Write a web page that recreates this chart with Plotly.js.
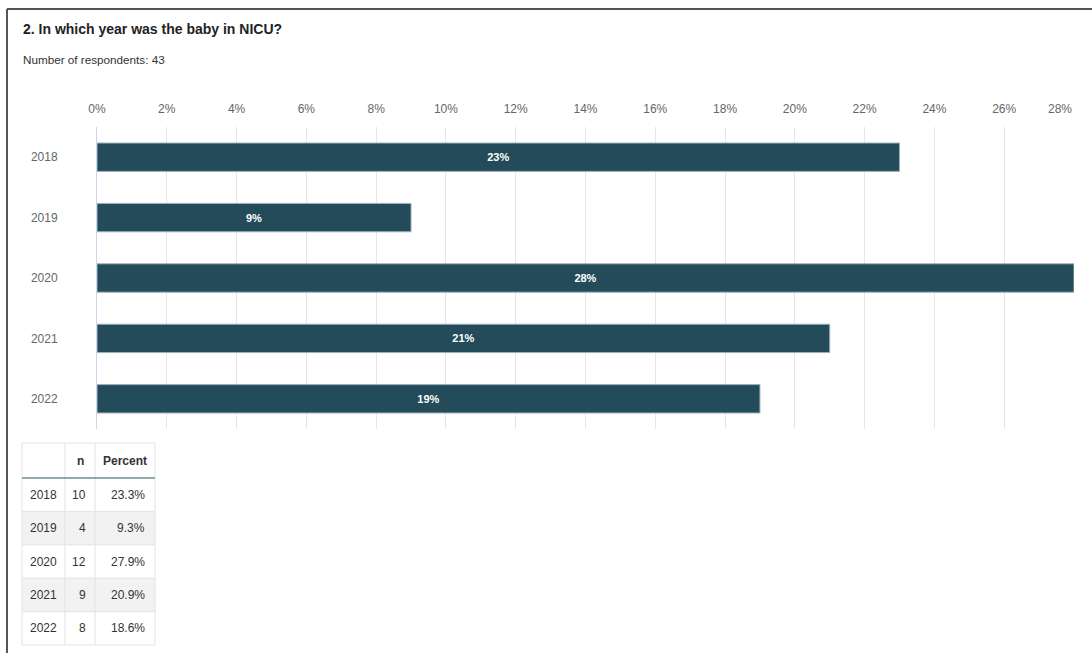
<!DOCTYPE html>
<html>
<head>
<meta charset="utf-8">
<script src="https://cdn.plot.ly/plotly-3.0.1.min.js"></script>
<style>
  html, body { margin: 0; padding: 0; background: #fff; }
  #chart { width: 1092px; height: 653px; }
</style>
</head>
<body>
<div id="chart"></div>
<script>
// ---- data ----
const years = ['2018', '2019', '2020', '2021', '2022'];
const barPercents = [23, 9, 28, 21, 19];
const counts = [10, 4, 12, 9, 8];
const tablePercents = [23.3, 9.3, 27.9, 20.9, 18.6];
const xTicks = [0, 2, 4, 6, 8, 10, 12, 14, 16, 18, 20, 22, 24, 26, 28];
const titleText = '2. In which year was the baby in NICU?';
const subtitleText = 'Number of respondents: 43';
const tableHeader = ['', 'n', 'Percent'];

// ---- layout helpers (pixels -> paper) ----
const W = 1092, H = 653;
const px = x => x / W;
const py = y => (H - y) / H;

const FONT = 'Liberation Sans, Arial, sans-serif';
const barColor = '#244b5a';

const bars = {
  type: 'bar',
  orientation: 'h',
  x: barPercents,
  y: years,
  marker: { color: barColor, line: { color: '#9fb3bd', width: 1 } },
  text: barPercents.map(v => '<b>' + v + '%</b>'),
  textposition: 'inside',
  insidetextanchor: 'middle',
  textfont: { color: '#ffffff', size: 11, family: FONT },
  width: 0.47,
  hoverinfo: 'skip'
};

// ---- table built from shapes + annotations ----
const colEdges = [22, 65, 95, 155];
const headerTop = 443, headerBottom = 478, tableBottom = 645;
const rowH = (tableBottom - headerBottom) / years.length;
const shapes = [];
const annotations = [];

years.forEach((_, i) => {
  if (i % 2 === 1) {
    shapes.push({ type: 'rect', xref: 'paper', yref: 'paper', layer: 'below',
      x0: px(colEdges[0]), x1: px(colEdges[3]),
      y0: py(headerBottom + (i + 1) * rowH), y1: py(headerBottom + i * rowH),
      fillcolor: '#f2f2f2', line: { width: 0 } });
  }
});
// horizontal borders
for (let i = 1; i <= years.length; i++) {
  const y = headerBottom + i * rowH;
  shapes.push({ type: 'line', xref: 'paper', yref: 'paper',
    x0: px(colEdges[0]), x1: px(colEdges[3]), y0: py(y), y1: py(y),
    line: { color: '#e3e3e3', width: 1 } });
}
shapes.push({ type: 'line', xref: 'paper', yref: 'paper',
  x0: px(colEdges[0]), x1: px(colEdges[3]), y0: py(headerTop), y1: py(headerTop),
  line: { color: '#e3e3e3', width: 1 } });
// vertical borders
colEdges.forEach(x => {
  shapes.push({ type: 'line', xref: 'paper', yref: 'paper',
    x0: px(x), x1: px(x), y0: py(headerTop), y1: py(tableBottom),
    line: { color: '#e3e3e3', width: 1 } });
});
// header bottom rule
shapes.push({ type: 'line', xref: 'paper', yref: 'paper',
  x0: px(colEdges[0]), x1: px(colEdges[3]), y0: py(headerBottom), y1: py(headerBottom),
  line: { color: '#6f8a99', width: 1.5 } });

const cellFont = { family: FONT, size: 12, color: '#333333' };
// header text
annotations.push({ xref: 'paper', yref: 'paper', x: px((colEdges[1] + colEdges[2]) / 2),
  y: py((headerTop + headerBottom) / 2), xanchor: 'center', yanchor: 'middle',
  text: '<b>' + tableHeader[1] + '</b>', showarrow: false, font: cellFont });
annotations.push({ xref: 'paper', yref: 'paper', x: px((colEdges[2] + colEdges[3]) / 2),
  y: py((headerTop + headerBottom) / 2), xanchor: 'center', yanchor: 'middle',
  text: '<b>' + tableHeader[2] + '</b>', showarrow: false, font: cellFont });
// body text
years.forEach((yr, i) => {
  const yc = py(headerBottom + (i + 0.5) * rowH);
  annotations.push({ xref: 'paper', yref: 'paper', x: px((colEdges[0] + colEdges[1]) / 2), y: yc,
    xanchor: 'center', yanchor: 'middle', text: yr, showarrow: false, font: cellFont });
  annotations.push({ xref: 'paper', yref: 'paper', x: px(colEdges[2] - 7), y: yc,
    xanchor: 'right', yanchor: 'middle', text: String(counts[i]), showarrow: false, font: cellFont });
  annotations.push({ xref: 'paper', yref: 'paper', x: px(colEdges[3] - 8), y: yc,
    xanchor: 'right', yanchor: 'middle', text: tablePercents[i].toFixed(1) + '%', showarrow: false, font: cellFont });
});

// titles
annotations.push({ xref: 'paper', yref: 'paper', x: px(21), y: py(29), xanchor: 'left', yanchor: 'middle',
  text: '<b>' + titleText + '</b>', showarrow: false,
  font: { family: FONT, size: 14, color: '#222222' } });
annotations.push({ xref: 'paper', yref: 'paper', x: px(21), y: py(59), xanchor: 'left', yanchor: 'middle',
  text: subtitleText, showarrow: false,
  font: { family: FONT, size: 11.7, color: '#333333' } });
// last x tick label kept inside the plot (as in the reference)
annotations.push({ xref: 'x', yref: 'paper', x: xTicks[xTicks.length - 1], y: py(109),
  xanchor: 'right', yanchor: 'middle', text: xTicks[xTicks.length - 1] + '%', showarrow: false,
  font: { family: FONT, size: 12, color: '#666666' } });

// frame
shapes.push({ type: 'line', xref: 'paper', yref: 'paper', x0: px(7), x1: 1, y0: py(9), y1: py(9),
  line: { color: '#555555', width: 2 } });
shapes.push({ type: 'line', xref: 'paper', yref: 'paper', x0: px(7), x1: px(7), y0: py(9), y1: 0,
  line: { color: '#555555', width: 2 } });

const layout = {
  width: W, height: H,
  margin: { l: 0, r: 0, t: 0, b: 0 },
  paper_bgcolor: '#ffffff',
  plot_bgcolor: '#ffffff',
  showlegend: false,
  font: { family: FONT, size: 12, color: '#666666' },
  xaxis: {
    domain: [px(97), px(1074)],
    side: 'top',
    range: [0, 28],
    tickvals: xTicks,
    ticktext: xTicks.map((v, i) => i === xTicks.length - 1 ? '' : v + '%'),
    ticks: '',
    ticklabelstandoff: 11,
    tickfont: { family: FONT, size: 12, color: '#666666' },
    showgrid: true,
    gridcolor: '#e6e6e6',
    gridwidth: 1,
    zeroline: false,
    showline: false,
    fixedrange: true
  },
  yaxis: {
    domain: [py(429), py(127)],
    type: 'category',
    autorange: 'reversed',
    ticks: '',
    ticklabelstandoff: 36,
    tickfont: { family: FONT, size: 12, color: '#666666' },
    showgrid: false,
    zeroline: false,
    showline: true,
    linecolor: '#ccd6eb',
    linewidth: 1,
    fixedrange: true
  },
  annotations: annotations,
  shapes: shapes
};

Plotly.newPlot('chart', [bars], layout, { displayModeBar: false, staticPlot: true });
</script>
</body>
</html>
